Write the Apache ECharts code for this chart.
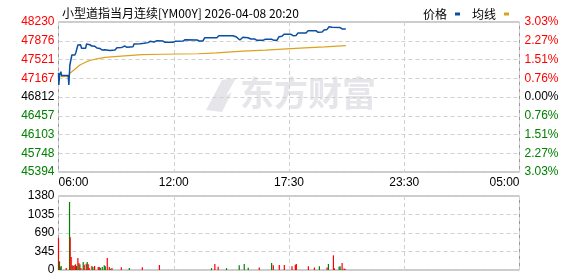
<!DOCTYPE html>
<html><head><meta charset="utf-8">
<script src="https://cdn.jsdelivr.net/npm/echarts@6/dist/echarts.min.js"></script>
<style>html,body{margin:0;padding:0;background:#fff}#c{width:578px;height:276px}</style>
</head><body><div id="c"></div>
<script>
// ---- data ----
const titleText = '小型道指当月连续[YM00Y] 2026-04-08 20:20';
const timeLabels = ['06:00', '12:00', '17:30', '23:30', '05:00'];
const totalMinutes = 1380;
const prevClose = 46812;
const priceMin = 45394, priceMax = 48230;
const priceTickLabels = ['45394', '45748', '46103', '46457', '46812', '47167', '47521', '47876', '48230'];
const pctTickLabels = ['3.03%', '2.27%', '1.51%', '0.76%', '0.00%', '0.76%', '1.51%', '2.27%', '3.03%'];
const volTickLabels = ['0', '345', '690', '1035', '1380'];

const priceMinutes = [0,1,3,7,9,19,29,31,34,40,49,52,57,58,66,69,81,84,94,100,109,115,124,130,139,154,169,175,189,193,199,205,223,226,244,256,268,274,286,295,313,319,343,349,373,379,415,421,432,438,474,480,522,531,543,552,567,576,588,594,612,618,639,645,654,660,669,675,696,702,711,717,741,747,771,777,789,795,804,810,819,843,849,860];
const priceValues = [47266,47040,47218,47290,47220,47218,47218,47039,47417,47606,47606,47650,47670,47795,47800,47733,47733,47814,47800,47776,47770,47738,47730,47700,47705,47691,47700,47744,47750,47782,47775,47751,47760,47814,47820,47827,47840,47865,47852,47877,47870,47846,47846,47865,47870,47895,47890,47871,47871,47933,47933,47971,47971,47952,47890,47941,47933,47908,47908,47884,47884,47903,47903,47884,47884,47952,47960,47997,47997,47971,47975,48022,48022,48066,48066,48035,48040,48079,48090,48141,48130,48125,48098,48098];

const avgMinutes = [6,29,34,49,64,84,99,119,139,178,249,310,312,418,419,473,474,507,508,552,553,620,621,683,684,737,738,797,798,860];
const avgValues = [47196,47200,47260,47336,47417,47480,47511,47536,47562,47581,47612,47620,47625,47630,47638,47645,47657,47660,47676,47680,47695,47700,47719,47722,47738,47740,47757,47760,47782,47785];

const volMinutes = [0,3,5,8,23,33,35,38,41,44,47,51,54,58,61,64,67,74,77,83,86,89,92,100,103,108,119,122,125,131,137,140,146,152,155,160,188,212,251,302,458,468,478,503,541,556,568,601,638,643,661,676,699,709,712,748,766,781,804,808,823,826,840,843,849,855,858];
const volValues = [597,162,56,75,37,1268,609,242,87,75,87,106,75,224,130,106,37,149,99,118,149,106,37,75,56,75,56,56,43,56,87,68,224,56,25,37,50,37,50,93,35,112,60,35,90,112,40,45,130,90,93,93,70,100,112,70,45,70,45,112,274,30,60,70,130,30,20];
const volDir = [1,-1,-1,-1,1,-1,1,1,-1,1,1,1,-1,1,1,-1,1,-1,1,1,-1,1,1,1,-1,1,1,1,-1,-1,-1,-1,1,1,-1,1,1,-1,1,1,-1,1,1,-1,-1,-1,-1,1,-1,1,1,1,1,1,1,1,1,-1,1,-1,1,1,-1,-1,1,1,1];

// ---- chart ----
const RED = '#ff0000', GREEN = '#008000', DARK = '#000000';
const priceInterval = (priceMax - priceMin) / 8;
const chart = echarts.init(document.getElementById('c'), null, {renderer: 'canvas'});
const font = 'Liberation Sans, Arial, sans-serif';
const idxOf = (v, mn, iv) => Math.round((v - mn) / iv);

const priceData = priceMinutes.map((m, i) => [m, priceValues[i]]);
const avgData = avgMinutes.map((m, i) => [m, avgValues[i]]);
const volData = volMinutes.map((m, i) => ({value: [m, volValues[i]], itemStyle: {color: volDir[i] > 0 ? RED : GREEN}}));

const splitLine = {show: true, lineStyle: {color: '#d0d0d0', type: [4, 3], width: 1}};

chart.setOption({
  animation: false,
  textStyle: {fontFamily: font},
  title: {text: titleText, left: 57, top: 2, textStyle: {fontSize: 12, fontWeight: 'normal', color: '#000', fontFamily: 'Noto Sans CJK SC, sans-serif'}},
  legend: {
    right: 64, top: 3, align: 'right', itemWidth: 5, itemHeight: 3, itemGap: 12,
    icon: 'rect',
    textStyle: {fontSize: 12, color: '#000', fontFamily: 'Noto Sans CJK SC, sans-serif', padding: [0, 3, 0, 0]},
    data: ['价格', '均线']
  },
  graphic: [
    {type: 'text', left: 240, top: 76, z: 0, style: {text: '东方财富', font: 'bold 34px "Noto Sans CJK SC"', fill: '#e6e6ea'}},
    {type: 'polygon', z: 0, shape: {points: [[206, 110], [222, 80], [236, 78], [226, 96], [232, 92], [222, 112]]}, style: {fill: '#e6e6ea'}}
  ],
  grid: [
    {left: 58.5, right: 58.5, top: 22, height: 150, show: true, borderColor: '#999', borderWidth: 1, backgroundColor: 'transparent'},
    {left: 58.5, right: 58.5, top: 196, height: 74, show: true, borderColor: '#999', borderWidth: 1, backgroundColor: 'transparent'}
  ],
  xAxis: [
    {type: 'value', gridIndex: 0, min: 0, max: totalMinutes, interval: totalMinutes / 4,
     axisLine: {show: false}, axisTick: {show: false}, splitLine: splitLine,
     axisLabel: {margin: 5, fontSize: 12, color: '#000', fontFamily: font, alignMinLabel: 'left', alignMaxLabel: 'right',
       formatter: v => timeLabels[idxOf(v, 0, totalMinutes / 4)]}},
    {type: 'value', gridIndex: 1, min: 0, max: totalMinutes, interval: totalMinutes / 4,
     axisLine: {show: false}, axisTick: {show: false}, splitLine: splitLine, axisLabel: {show: false}}
  ],
  yAxis: [
    {type: 'value', gridIndex: 0, min: priceMin, max: priceMax, interval: priceInterval,
     axisLine: {show: false}, axisTick: {show: false}, splitLine: splitLine,
     axisLabel: {margin: 4, fontSize: 12, fontFamily: font,
       formatter: v => priceTickLabels[idxOf(v, priceMin, priceInterval)],
       color: v => { const i = idxOf(v, priceMin, priceInterval); return i > 4 ? RED : (i < 4 ? GREEN : DARK); }}},
    {type: 'value', gridIndex: 0, position: 'right', min: priceMin, max: priceMax, interval: priceInterval,
     axisLine: {show: false}, axisTick: {show: false}, splitLine: {show: false},
     axisLabel: {margin: 5, fontSize: 12, fontFamily: font,
       formatter: v => pctTickLabels[idxOf(v, priceMin, priceInterval)],
       color: v => { const i = idxOf(v, priceMin, priceInterval); return i > 4 ? RED : (i < 4 ? GREEN : DARK); }}},
    {type: 'value', gridIndex: 1, min: 0, max: 1380, interval: 345,
     axisLine: {show: false}, axisTick: {show: false}, splitLine: splitLine,
     axisLabel: {margin: 4, fontSize: 12, fontFamily: font, color: '#000',
       formatter: v => volTickLabels[idxOf(v, 0, 345)]}}
  ],
  series: [
    {name: '价格', type: 'line', xAxisIndex: 0, yAxisIndex: 0, data: priceData, showSymbol: false, symbol: 'none',
     lineStyle: {color: '#0a4fa0', width: 1.5}, itemStyle: {color: '#0a4fa0'}, z: 3},
    {name: '均线', type: 'line', xAxisIndex: 0, yAxisIndex: 0, data: avgData, showSymbol: false, symbol: 'none',
     lineStyle: {color: '#dda21a', width: 1.2}, itemStyle: {color: '#dda21a'}, z: 2},
    {name: '成交量', type: 'bar', xAxisIndex: 1, yAxisIndex: 2, data: volData, barWidth: 1.2, barGap: '-100%'}
  ]
});
</script></body></html>
